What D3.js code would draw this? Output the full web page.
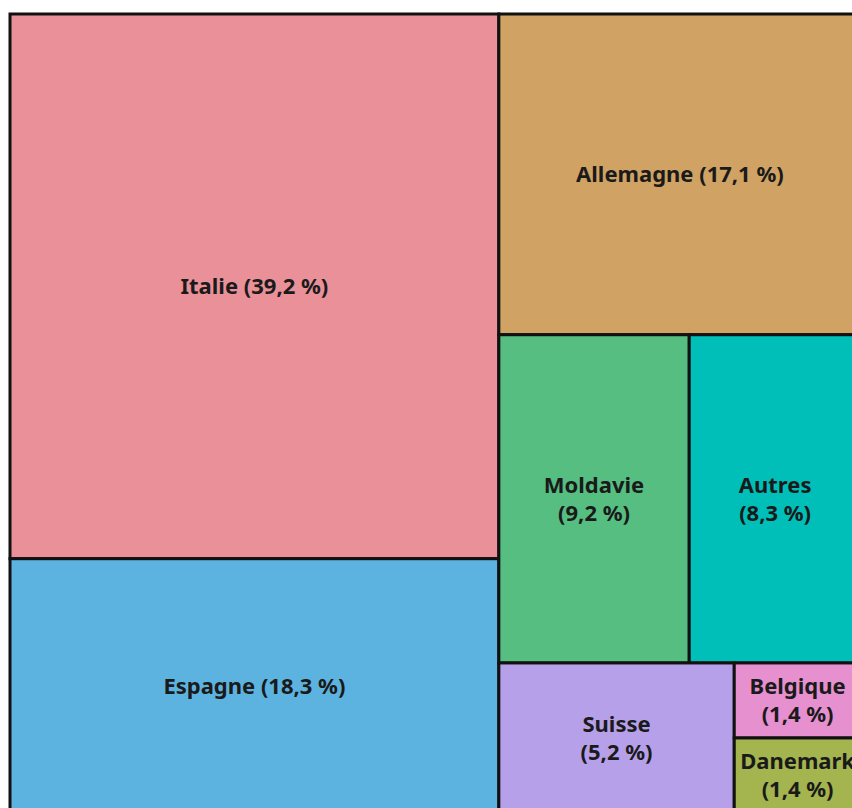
<!DOCTYPE html>
<html>
<head>
<meta charset="utf-8">
<script src="https://cdn.jsdelivr.net/npm/d3@7"></script>
<style>
  body { margin: 0; background: #fff; }
  svg { display: block; }
  .cell text { font-family: "Noto Sans", sans-serif; font-weight: bold; font-size: 22px; fill: #1a1a1a; }
</style>
</head>
<body>
<div id="container"></div>
<script>
var w = 852
var h = 808

// pays de destination, part en %
var countries = ["Italie", "Espagne", "Allemagne", "Moldavie", "Autres", "Suisse", "Belgique", "Danemark"]
var shares = [39.2, 18.3, 17.1, 9.2, 8.3, 5.2, 1.4, 1.4]
var colors = ["#ea9099", "#5cb3e0", "#d0a263", "#55be80", "#00bfb8", "#b6a0ea", "#e690d0", "#a4b44e"]

var svg = d3.select("#container").append("svg")
    .attr("width", w)
    .attr("height", h)

var root = d3.hierarchy({
    children: countries.map(function (c, i) { return { name: c, value: shares[i], color: colors[i] } })
}).sum(function (d) { return d.value })

// the treemap is larger than the window, cropped on right and bottom
d3.treemap()
    .tile(d3.treemapSquarify.ratio(1))
    .size([851, 799])
    .round(false)(root)

var g = svg.append("g").attr("transform", "translate(10,14)")

var cell = g.selectAll("g")
    .data(root.leaves())
    .enter()
    .append("g")
    .attr("class", "cell")
    .attr("transform", function (d) { return "translate(" + d.x0 + "," + d.y0 + ")" })

cell.append("rect")
    .attr("width", function (d) { return d.x1 - d.x0 })
    .attr("height", function (d) { return d.y1 - d.y0 })
    .attr("fill", function (d) { return d.data.color })
    .attr("stroke", "#111")
    .attr("stroke-width", 3)

var fmt = function (v) { return "(" + String(v.toFixed(1)).replace(".", ",") + " %)" }

cell.each(function (d) {
    var cw = d.x1 - d.x0
    var ch = d.y1 - d.y0
    var lines = cw > 300
        ? [d.data.name + " " + fmt(d.data.value)]
        : [d.data.name, fmt(d.data.value)]
    var lh = 28
    var t = d3.select(this).append("text")
        .attr("text-anchor", "middle")
    lines.forEach(function (l, i) {
        t.append("tspan")
            .attr("x", cw / 2)
            .attr("y", ch / 2 + (i - (lines.length - 1) / 2) * lh)
            .attr("dy", "0.35em")
            .text(l)
    })
})
</script>
</body>
</html>
